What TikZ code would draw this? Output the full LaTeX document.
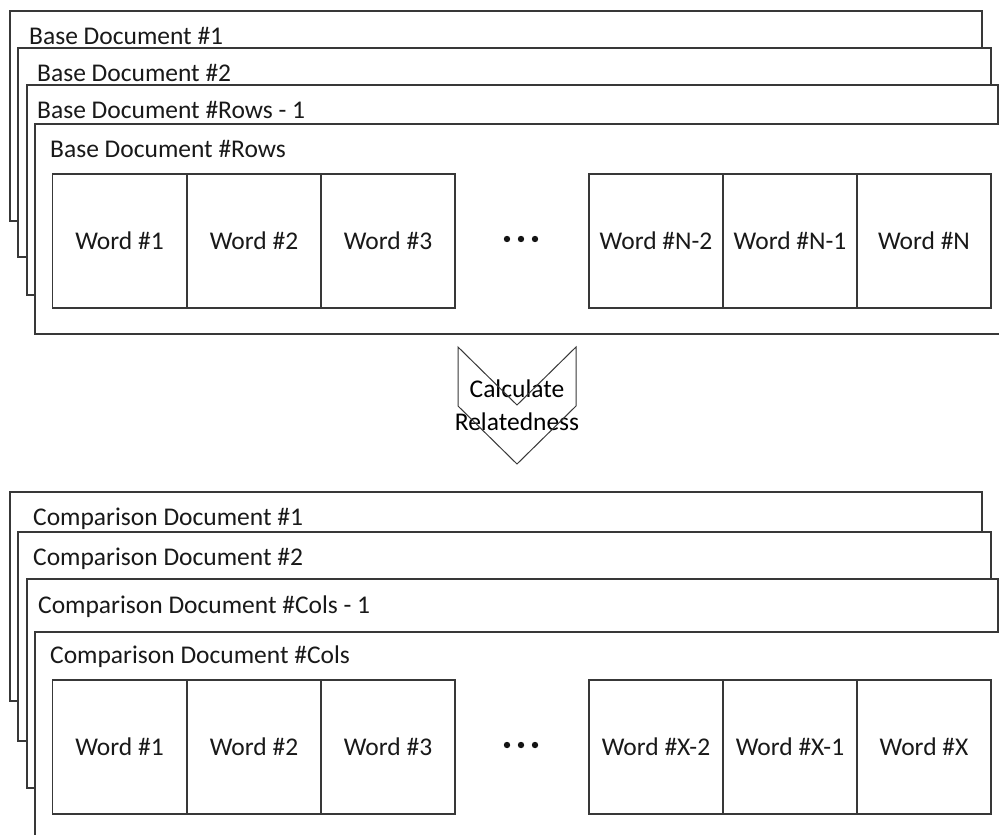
\documentclass[tikz,border=0pt]{standalone}
\usepackage{fontspec}
\setmainfont{Carlito}
\begin{document}
\begin{tikzpicture}[x=1pt,y=-1pt,
  edge/.style={draw=black!78,line width=1.3pt},
  docbox/.style={edge,fill=white},
  doclabel/.style={anchor=base west,inner sep=0pt,text=black!90},
  wordcell/.style={edge,fill=white,minimum width=134pt,minimum height=134pt,inner sep=0pt,text=black!90},
  ellipsisdot/.style={fill=black!92},
  every node/.style={font=\fontsize{25.5}{33}\selectfont}]
\clip (0,0) rectangle (999,835);
\fill[white] (0,0) rectangle (999,835);

% ---- base documents ----
\draw[docbox] (10,11) rectangle (982,221);
\node[doclabel] (b1) at (29,44) {Base Document \#1};
\draw[docbox] (18,48) rectangle (991,257);
\node[doclabel] (b2) at (37,81) {Base Document \#2};
\draw[docbox] (27,85) rectangle (998,295);
\node[doclabel] (b3) at (37,118) {Base Document \#Rows - 1};
\draw[docbox] (35,124) rectangle (1010,334);
\node[doclabel] (b4) at (50,157) {Base Document \#Rows};

\node[wordcell] (bw1) at (119.5,241) {Word \#1};
\node[wordcell] (bw2) at (254,241) {Word \#2};
\node[wordcell] (bw3) at (388,241) {Word \#3};
\coordinate (bdots) at (521,239);
\foreach \dx in {-14,0,14} \fill[ellipsisdot] ([xshift=\dx pt]bdots) circle (3.2pt);
\node[wordcell] (bwn2) at (656,241) {Word \#N-2};
\node[wordcell] (bwn1) at (790,241) {Word \#N-1};
\node[wordcell] (bwn) at (924,241) {Word \#N};

% ---- chevron ----
\node[align=center,inner sep=0pt] (calc) at (517,405) {Calculate\\Relatedness};
\draw[edge,line width=1pt,line join=miter] (458,347) -- (517,405) -- (576,347) -- (576,406) -- (517,464) -- (458,406) -- cycle;

% ---- comparison documents ----
\draw[docbox] (10,492) rectangle (982,701);
\node[doclabel] (c1) at (33,525) {Comparison Document \#1};
\draw[docbox] (18,532) rectangle (991,741);
\node[doclabel] (c2) at (33,565) {Comparison Document \#2};
\draw[docbox] (27,579) rectangle (998,788);
\node[doclabel] (c3) at (38,613) {Comparison Document \#Cols - 1};
\draw[docbox] (35,632) rectangle (1010,860);
\node[doclabel] (c4) at (50,663) {Comparison Document \#Cols};

\node[wordcell] (cw1) at (119.5,747) {Word \#1};
\node[wordcell] (cw2) at (254,747) {Word \#2};
\node[wordcell] (cw3) at (388,747) {Word \#3};
\coordinate (cdots) at (521,745);
\foreach \dx in {-14,0,14} \fill[ellipsisdot] ([xshift=\dx pt]cdots) circle (3.2pt);
\node[wordcell] (cwx2) at (656,747) {Word \#X-2};
\node[wordcell] (cwx1) at (790,747) {Word \#X-1};
\node[wordcell] (cwx) at (924,747) {Word \#X};
\end{tikzpicture}
\end{document}
